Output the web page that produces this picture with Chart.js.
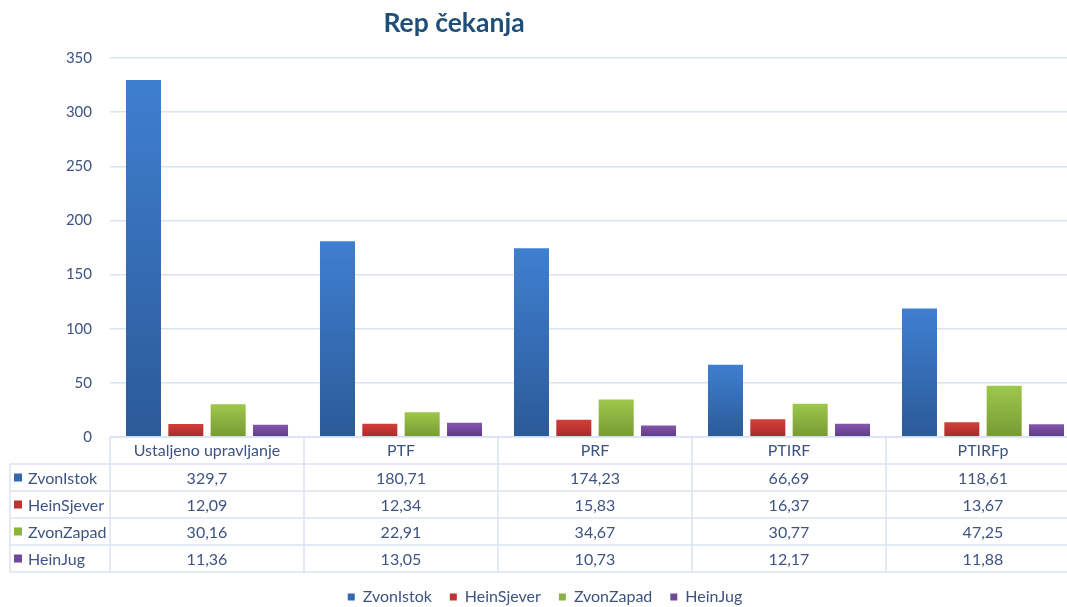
<!DOCTYPE html>
<html>
<head>
<meta charset="utf-8">
<script src="https://cdn.jsdelivr.net/npm/chart.js@4.4.1/dist/chart.umd.min.js"></script>
<style>
  html, body { margin: 0; padding: 0; background: #fff; overflow: hidden; }
  #wrap { position: relative; width: 1067px; height: 607px; overflow: hidden; }
  #title { position: absolute; left: 0; width: 908px; top: 6px; text-align: center;
           font-family: Lato, 'Open Sans', sans-serif; font-weight: bold; font-size: 26.5px; color: #1F4E79; }
  canvas { position: absolute; left: 0; top: 0; }
</style>
</head>
<body>
<div id="wrap">
  <canvas id="c" width="1080" height="615"></canvas>
  <div id="title">Rep čekanja</div>
</div>
<script>
const categories = ['Ustaljeno upravljanje', 'PTF', 'PRF', 'PTIRF', 'PTIRFp'];
const seriesNames = ['ZvonIstok', 'HeinSjever', 'ZvonZapad', 'HeinJug'];
const zvonIstok  = [329.7, 180.71, 174.23, 66.69, 118.61];
const heinSjever = [12.09, 12.34, 15.83, 16.37, 13.67];
const zvonZapad  = [30.16, 22.91, 34.67, 30.77, 47.25];
const heinJug    = [11.36, 13.05, 10.73, 12.17, 11.88];
const yTicks = [0, 50, 100, 150, 200, 250, 300, 350];

const seriesValues = [zvonIstok, heinSjever, zvonZapad, heinJug];
const topColors = ['#3F7FD0', '#D43F3A', '#9DC84B', '#8456AD'];
const bottomColors = ['#2B5A98', '#A52A2A', '#769A34', '#5E3A86'];
const legendColors = ['#3469B0', '#BF3533', '#8AB441', '#6F4899'];
const textColor = '#3E5382';
const lineColor = '#DAE3F3';
const FONT = "Lato, 'Open Sans', sans-serif";
const FS = 16;
const ROW_H = 27;

function fmt(v) { return String(v).replace('.', ','); }

function gradFor(i) {
  return function (ctx) {
    const chart = ctx.chart;
    if (!chart.chartArea || ctx.type !== 'data') return legendColors[i];
    const y = chart.scales.y;
    const top = y.getPixelForValue(ctx.parsed.y);
    const bot = y.getPixelForValue(0);
    if (!isFinite(top) || !isFinite(bot) || Math.abs(bot - top) < 1) return legendColors[i];
    const g = chart.ctx.createLinearGradient(0, top, 0, bot);
    g.addColorStop(0, topColors[i]);
    g.addColorStop(1, bottomColors[i]);
    return g;
  };
}

const tablePlugin = {
  id: 'dataTable',
  afterDraw(chart) {
    const ctx = chart.ctx;
    const area = chart.chartArea;
    const x = chart.scales.x;
    const top = area.bottom;
    const n = categories.length;
    const half = (x.getPixelForTick(1) - x.getPixelForTick(0)) / 2;
    const leftCol = 10;
    const bounds = [];
    for (let i = 0; i <= n; i++) {
      bounds.push(i < n ? x.getPixelForTick(i) - half : x.getPixelForTick(n - 1) + half);
    }
    const bottom = top + ROW_H * (seriesNames.length + 1);
    ctx.save();
    ctx.strokeStyle = lineColor;
    ctx.lineWidth = 1.5;
    ctx.beginPath();
    ctx.moveTo(bounds[0], top); ctx.lineTo(bounds[n], top);
    for (let r = 1; r <= seriesNames.length + 1; r++) {
      const yy = top + r * ROW_H;
      ctx.moveTo(leftCol, yy); ctx.lineTo(bounds[n], yy);
    }
    ctx.moveTo(leftCol, top + ROW_H); ctx.lineTo(leftCol, bottom);
    for (let i = 0; i <= n; i++) {
      ctx.moveTo(bounds[i], top); ctx.lineTo(bounds[i], bottom);
    }
    ctx.stroke();

    ctx.font = FS + 'px ' + FONT;
    ctx.textBaseline = 'middle';
    for (let s = 0; s < seriesNames.length; s++) {
      const cy = top + ROW_H * (s + 1) + ROW_H / 2;
      ctx.fillStyle = legendColors[s];
      ctx.fillRect(leftCol + 4, cy - 4, 8, 8);
      ctx.fillStyle = textColor;
      ctx.textAlign = 'left';
      ctx.fillText(seriesNames[s], leftCol + 18, cy + 1);
      ctx.textAlign = 'center';
      for (let i = 0; i < n; i++) {
        ctx.fillText(fmt(seriesValues[s][i]), x.getPixelForTick(i), cy + 1);
      }
    }
    ctx.restore();
  }
};

new Chart(document.getElementById('c'), {
  type: 'bar',
  data: {
    labels: categories,
    datasets: seriesNames.map((name, i) => ({
      label: name,
      data: seriesValues[i],
      backgroundColor: gradFor(i),
      borderWidth: 0,
      categoryPercentage: 0.873,
      barPercentage: 0.827
    }))
  },
  options: {
    responsive: false,
    animation: false,
    devicePixelRatio: 1,
    layout: { padding: { top: 58, left: 10, right: 0, bottom: 0 } },
    plugins: {
      title: { display: false },
      tooltip: { enabled: false },
      legend: {
        position: 'bottom',
        labels: {
          boxWidth: 7, boxHeight: 7,
          padding: 18,
          color: textColor,
          font: { family: FONT, size: FS },
          generateLabels(chart) {
            return seriesNames.map((name, i) => ({
              text: name, fillStyle: legendColors[i], strokeStyle: legendColors[i],
              lineWidth: 0, datasetIndex: i, fontColor: textColor
            }));
          }
        }
      }
    },
    scales: {
      x: {
        grid: { display: false, drawTicks: false },
        border: { display: false },
        ticks: { color: textColor, font: { family: FONT, size: FS }, padding: 4, maxRotation: 0, autoSkip: false },
        afterFit(scale) { scale.height = 134; }
      },
      y: {
        min: 0, max: 350,
        afterBuildTicks(scale) { scale.ticks = yTicks.map(v => ({ value: v })); },
        grid: { color: lineColor, lineWidth: 1.5, drawTicks: false },
        border: { display: false },
        ticks: { color: textColor, font: { family: FONT, size: 15 }, padding: 18 },
        afterFit(scale) { scale.width = 100; }
      }
    }
  },
  plugins: [tablePlugin]
});
</script>
</body>
</html>
